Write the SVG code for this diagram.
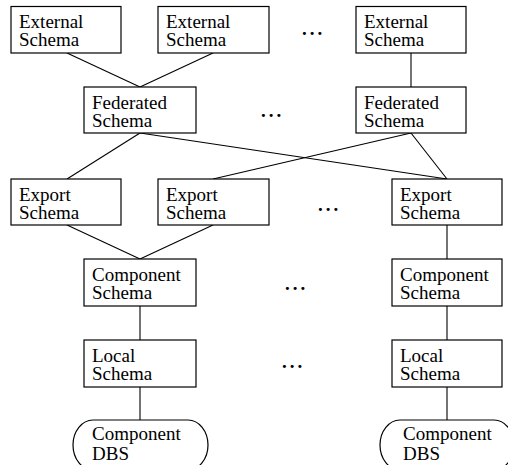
<svg xmlns="http://www.w3.org/2000/svg" width="508" height="465" viewBox="0 0 508 465">
  <style>
    .box { fill: #fff; stroke: #000; stroke-width: 1.2; }
    .lbl { font-family: "Liberation Serif", "Times New Roman", serif; font-size: 19px; fill: #000; }
    .dots { font-family: "Liberation Serif", "Times New Roman", serif; font-size: 19px; fill: #000; font-weight: bold; letter-spacing: 3px; }
    .conn line { stroke: #000; stroke-width: 1.1; }
  </style>
  <rect width="508" height="465" fill="#fff"/>

  <!-- connectors -->
  <g id="connectors" class="conn">
    <line x1="67" y1="53" x2="140" y2="87"/>
    <line x1="213" y1="53" x2="140" y2="87"/>
    <line x1="411" y1="53" x2="411" y2="87"/>
    <line x1="140" y1="133" x2="67" y2="179"/>
    <line x1="140" y1="133" x2="447" y2="179"/>
    <line x1="411" y1="133" x2="213" y2="179"/>
    <line x1="411" y1="133" x2="447" y2="179"/>
    <line x1="67" y1="225" x2="140" y2="259"/>
    <line x1="213" y1="225" x2="140" y2="259"/>
    <line x1="447" y1="225" x2="447" y2="259"/>
    <line x1="140" y1="306" x2="140" y2="340"/>
    <line x1="447" y1="306" x2="447" y2="340"/>
    <line x1="140" y1="387" x2="140" y2="420"/>
    <line x1="447" y1="387" x2="447" y2="420"/>
  </g>

  <!-- external schemas -->
  <g id="ext1">
    <rect class="box" x="11" y="6.5" width="110" height="46.5"/>
    <text class="lbl" x="19" y="28">External<tspan x="19" dy="18">Schema</tspan></text>
  </g>
  <g id="ext2">
    <rect class="box" x="158" y="6.5" width="111" height="46.5"/>
    <text class="lbl" x="166" y="28">External<tspan x="166" dy="18">Schema</tspan></text>
  </g>
  <g id="ext3">
    <rect class="box" x="356" y="6.5" width="110" height="46.5"/>
    <text class="lbl" x="364" y="28">External<tspan x="364" dy="18">Schema</tspan></text>
  </g>

  <!-- federated schemas -->
  <g id="fed1">
    <rect class="box" x="84" y="87" width="112" height="46"/>
    <text class="lbl" x="92" y="109">Federated<tspan x="92" dy="18">Schema</tspan></text>
  </g>
  <g id="fed2">
    <rect class="box" x="356" y="87" width="110" height="46"/>
    <text class="lbl" x="364" y="109">Federated<tspan x="364" dy="18">Schema</tspan></text>
  </g>

  <!-- export schemas -->
  <g id="exp1">
    <rect class="box" x="11" y="179" width="110" height="46"/>
    <text class="lbl" x="19" y="201">Export<tspan x="19" dy="18">Schema</tspan></text>
  </g>
  <g id="exp2">
    <rect class="box" x="158" y="179" width="111" height="46"/>
    <text class="lbl" x="166" y="201">Export<tspan x="166" dy="18">Schema</tspan></text>
  </g>
  <g id="exp3">
    <rect class="box" x="392" y="179" width="110" height="46"/>
    <text class="lbl" x="400" y="201">Export<tspan x="400" dy="18">Schema</tspan></text>
  </g>

  <!-- component schemas -->
  <g id="comp1">
    <rect class="box" x="84" y="259" width="112" height="47"/>
    <text class="lbl" x="92" y="281">Component<tspan x="92" dy="18">Schema</tspan></text>
  </g>
  <g id="comp2">
    <rect class="box" x="392" y="259" width="110" height="47"/>
    <text class="lbl" x="400" y="281">Component<tspan x="400" dy="18">Schema</tspan></text>
  </g>

  <!-- local schemas -->
  <g id="local1">
    <rect class="box" x="84" y="340" width="112" height="47"/>
    <text class="lbl" x="92" y="362">Local<tspan x="92" dy="18">Schema</tspan></text>
  </g>
  <g id="local2">
    <rect class="box" x="392" y="340" width="110" height="47"/>
    <text class="lbl" x="400" y="362">Local<tspan x="400" dy="18">Schema</tspan></text>
  </g>

  <!-- component database systems -->
  <g id="dbs1">
    <path class="box" d="M 93 420 H 188 A 20 25 0 0 1 188 470 H 93 A 20 25 0 0 1 93 420 Z"/>
    <text class="lbl" x="92" y="440">Component<tspan x="92" dy="20">DBS</tspan></text>
  </g>
  <g id="dbs2">
    <path class="box" d="M 400 420 H 494 A 20 25 0 0 1 494 470 H 400 A 20 25 0 0 1 400 420 Z"/>
    <text class="lbl" x="403" y="440">Component<tspan x="403" dy="20">DBS</tspan></text>
  </g>

  <!-- ellipses between columns -->
  <g id="ellipses">
    <text class="dots" x="302" y="35">...</text>
    <text class="dots" x="261" y="117">...</text>
    <text class="dots" x="318" y="211">...</text>
    <text class="dots" x="285" y="290">...</text>
    <text class="dots" x="282" y="368">...</text>
  </g>
</svg>
